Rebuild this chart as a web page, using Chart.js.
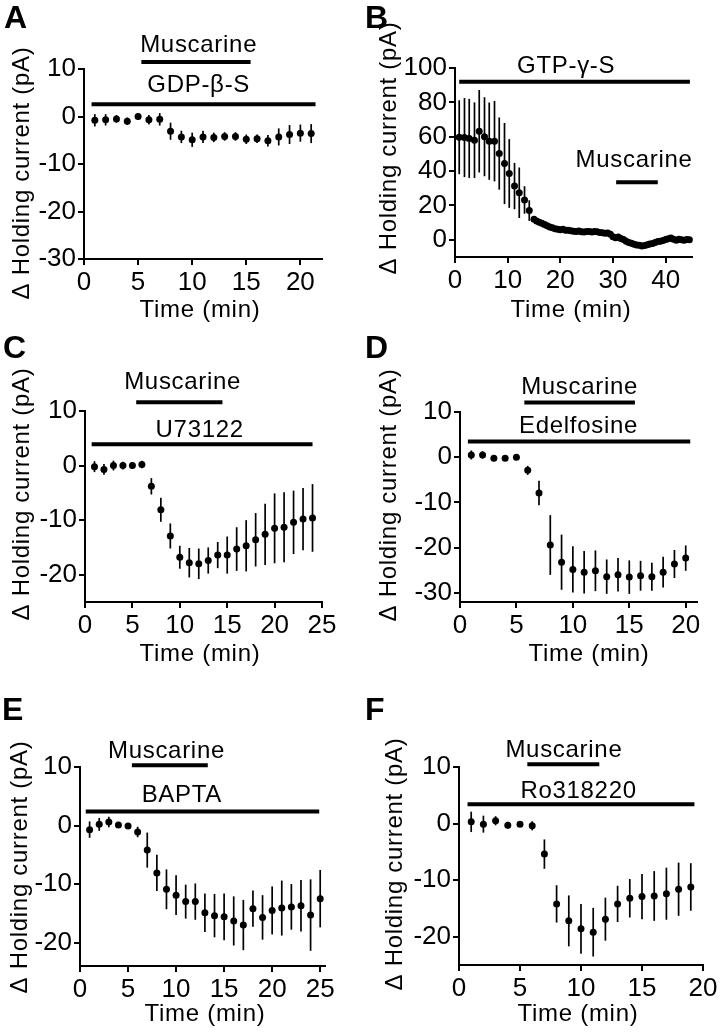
<!DOCTYPE html>
<html>
<head>
<meta charset="utf-8">
<script src="https://cdn.jsdelivr.net/npm/chart.js@4.4.1/dist/chart.umd.min.js"></script>
<style>
  html, body { margin: 0; padding: 0; background: #fff; }
  #fig { position: relative; width: 724px; height: 1034px; overflow: hidden; }
  #fig canvas { position: absolute; }
  .tag { position: absolute; font: bold 32px "Liberation Sans", Arial, sans-serif; line-height: 1; color: #000; }
</style>
</head>
<body>
<div id="fig">
  <canvas id="cA" width="362" height="340" style="left:0;top:0;width:362px;height:340px"></canvas>
  <canvas id="cB" width="362" height="340" style="left:362px;top:0;width:362px;height:340px"></canvas>
  <canvas id="cC" width="362" height="345" style="left:0;top:340px;width:362px;height:345px"></canvas>
  <canvas id="cD" width="362" height="345" style="left:362px;top:340px;width:362px;height:345px"></canvas>
  <canvas id="cE" width="362" height="349" style="left:0;top:685px;width:362px;height:349px"></canvas>
  <canvas id="cF" width="362" height="349" style="left:362px;top:685px;width:362px;height:349px"></canvas>
  <div class="tag" style="left:4px;top:1px">A</div>
  <div class="tag" style="left:365px;top:1px">B</div>
  <div class="tag" style="left:3px;top:331px">C</div>
  <div class="tag" style="left:365px;top:331px">D</div>
  <div class="tag" style="left:2px;top:693px">E</div>
  <div class="tag" style="left:365px;top:693px">F</div>
</div>
<script>
// ---- A : GDP-beta-S ----
const timeA = [1, 2, 3, 4, 5, 6, 7, 8, 9, 10, 11, 12, 13, 14, 15, 16, 17, 18, 19, 20, 21];
const meanA = [-0.8, -0.7, -0.5, -1.0, 0, -0.7, -0.6, -3.1, -4.3, -4.9, -4.3, -4.4, -4.2, -4.2, -4.8, -4.7, -5.1, -4.3, -3.8, -3.5, -3.6];
const semA = [1.3, 1.2, 0.8, 0.8, 0.7, 1.0, 1.3, 1.8, 1.3, 1.5, 1.3, 1.0, 0.9, 0.9, 1.0, 0.9, 1.2, 1.8, 2.0, 1.8, 2.0];
const barsA = [[5.3, 15.4, 11.5], [0.7, 21.4, 2.6]];   // [start, end, level]
const namesA = ['Muscarine', 'GDP-β-S'];
const xTicksA = [0, 5, 10, 15, 20];
const yTicksA = [-30, -20, -10, 0, 10];

// ---- B : GTP-gamma-S ----
const timeB = [0.8, 1.8, 2.7, 3.7, 4.6, 5.6, 6.5, 7.5, 8.4, 9.4, 10.3, 11.3, 12.2, 13.2, 14.1];
const meanB = [59.7, 59.5, 59.0, 58.0, 63.2, 60.0, 57.4, 57.4, 50.2, 44.4, 38.6, 31.3, 27.4, 23.2, 17.0];
const semB = [21.5, 23, 23, 22, 24, 23, 22.5, 23.4, 21, 23.6, 20, 13.5, 14.7, 8, 6];
const timeB2 = [15, 15.5, 16, 16.5, 17, 17.5, 18, 18.5, 19, 19.5,
  20, 20.5, 21, 21.5, 22, 22.5, 23, 23.5, 24, 24.5,
  25, 25.5, 26, 26.5, 27, 27.5, 28, 28.5, 29, 29.5,
  30, 30.5, 31, 31.5, 32, 32.5, 33, 33.5, 34, 34.5,
  35, 35.5, 36, 36.5, 37, 37.5, 38, 38.5, 39, 39.5,
  40, 40.5, 41, 41.5, 42, 42.5, 43, 43.5, 44, 44.5];
const meanB2 = [12.0, 11.0, 10.2, 9.6, 8.9, 8.2, 7.4, 7.0, 6.4, 6.2,
  5.9, 6.1, 5.6, 5.5, 5.3, 5.0, 4.8, 5.1, 4.7, 4.6,
  4.9, 4.8, 4.5, 4.9, 4.7, 4.3, 4.1, 3.8, 3.9, 3.2,
  1.8, 1.2, 1.6, 0.8, 0.2, -0.8, -1.5, -2.0, -2.6, -3.0,
  -3.2, -3.6, -3.3, -2.8, -2.4, -2.1, -1.6, -1.0, -0.8, -0.4,
  0.2, 0.6, 1.0, 0.4, -0.2, 0.3, 0.0, -0.3, 0.2, 0.0];
const barsB = [[30.6, 38.5, 33.5], [0.8, 44.6, 92]];
const namesB = ['Muscarine', 'GTP-γ-S'];
const xTicksB = [0, 10, 20, 30, 40];
const yTicksB = [0, 20, 40, 60, 80, 100];

// ---- C : U73122 ----
const timeC = [1, 2, 3, 4, 5, 6, 7, 8, 9, 10, 11, 12, 13, 14, 15, 16, 17, 18, 19, 20, 21, 22, 23, 24];
const meanC = [-0.2, -0.7, 0, 0, 0, 0.2, -3.8, -8.1, -12.9, -16.8, -17.8, -18, -17.4, -16.4, -16.4, -15.3, -14.7, -13.6, -12.6, -11.5, -11.3, -10.4, -9.8, -9.6];
const semC = [1, 1, 0.9, 0.7, 0.6, 0.7, 1.5, 2.2, 2.3, 2.1, 2.7, 2.8, 2.4, 2.4, 3.4, 4.0, 4.7, 4.9, 5.6, 6.4, 6.4, 5.8, 5.7, 6.2];
const barsC = [[5.4, 14.5, 11.6], [0.7, 24.0, 3.9]];
const namesC = ['Muscarine', 'U73122'];
const xTicksC = [0, 5, 10, 15, 20, 25];
const yTicksC = [-20, -10, 0, 10];

// ---- D : Edelfosine ----
const timeD = [1, 2, 3, 4, 5, 6, 7, 8, 9, 10, 11, 12, 13, 14, 15, 16, 17, 18, 19, 20];
const meanD = [0.5, 0.5, -0.2, -0.2, 0, -2.9, -7.9, -19.4, -23.2, -24.8, -25.4, -25.1, -26.4, -26, -26.5, -26.2, -26.4, -25.4, -23.6, -22.3];
const semD = [1, 0.8, 0.5, 0.5, 0.5, 1, 2.7, 6.6, 6.1, 5.1, 4.7, 4.5, 3.8, 3.7, 3.7, 3.3, 3.1, 3.4, 3.1, 2.8];
const barsD = [[5.7, 15.5, 12.1], [0.7, 20.4, 3.5]];
const namesD = ['Muscarine', 'Edelfosine'];
const xTicksD = [0, 5, 10, 15, 20];
const yTicksD = [-30, -20, -10, 0, 10];

// ---- E : BAPTA ----
const timeE = [1, 2, 3, 4, 5, 6, 7, 8, 9, 10, 11, 12, 13, 14, 15, 16, 17, 18, 19, 20, 21, 22, 23, 24, 25];
const meanE = [-0.7, 0.2, 0.6, 0.1, -0.1, -1.1, -4.2, -8.1, -10.9, -11.9, -13, -13, -14.9, -15.4, -15.6, -16.3, -17, -14.2, -15.7, -14.5, -14.1, -13.9, -13.7, -15.3, -12.5];
const semE = [1.4, 1.1, 0.9, 0.5, 0.5, 0.9, 3.0, 3.1, 3.4, 3.4, 2.9, 3.1, 3.3, 3.7, 4.0, 4.2, 4.3, 3.1, 3.8, 4.1, 4.7, 3.9, 4.4, 6.1, 4.9];
const barsE = [[5.4, 13.3, 10.3], [0.6, 24.9, 2.4]];
const namesE = ['Muscarine', 'BAPTA'];
const xTicksE = [0, 5, 10, 15, 20, 25];
const yTicksE = [-20, -10, 0, 10];

// ---- F : Ro318220 ----
const timeF = [1, 2, 3, 4, 5, 6, 7, 8, 9, 10, 11, 12, 13, 14, 15, 16, 17, 18, 19];
const meanF = [0.3, -0.1, 0.5, -0.3, -0.1, -0.4, -5.4, -14.2, -17.2, -18.6, -19.2, -16.9, -14.2, -13.2, -12.9, -12.8, -12.4, -11.6, -11.2];
const semF = [1.8, 1.5, 0.8, 0.6, 0.5, 0.8, 2.6, 3.3, 4.5, 4.4, 4.3, 3.8, 3.2, 3.4, 4.0, 4.4, 4.6, 4.7, 4.2];
const barsF = [[5.6, 11.5, 10.5], [0.7, 19.3, 3.4]];
const namesF = ['Muscarine', 'Ro318220'];
const xTicksF = [0, 5, 10, 15, 20];
const yTicksF = [-20, -10, 0, 10];

const FONT = '"Liberation Sans", Arial, Helvetica, sans-serif';
const Y_TITLE = 'Δ Holding current (pA)';
const X_TITLE = 'Time (min)';

// layout of each panel: area = [left, right, top, bottom] inside its canvas
const panels = [
  { id: 'cA', w: 362, h: 340, area: [84, 322, 69, 259], x: [0, 22], y: [-30, 10],
    xTicks: xTicksA, yTicks: yTicksA, bars: barsA, names: namesA,
    labelAt: [[10.6, -10], [10.6, -12]], xTitle: [200, 317], yTitle: [22, 173],
    series: [{ t: timeA, m: meanA, e: semA, r: 3.5 }] },
  { id: 'cB', w: 362, h: 340, area: [93, 330, 68, 257], x: [0, 45], y: [-10, 100],
    xTicks: xTicksB, yTicks: yTicksB, bars: barsB, names: namesB,
    labelAt: [[34, -15], [21.1, -9]], xTitle: [209, 317], yTitle: [27, 148],
    series: [{ t: timeB, m: meanB, e: semB, r: 3.5 }, { t: timeB2, m: meanB2, e: null, r: 3.5 }] },
  { id: 'cC', w: 362, h: 345, area: [85, 322, 71, 262], x: [0, 25], y: [-25, 10],
    xTicks: xTicksC, yTicks: yTicksC, bars: barsC, names: namesC,
    labelAt: [[10.3, -13], [12.1, -7]], xTitle: [200, 321], yTitle: [22, 154],
    series: [{ t: timeC, m: meanC, e: semC, r: 3.5 }] },
  { id: 'cD', w: 362, h: 345, area: [98, 335, 72, 262], x: [0, 21], y: [-32, 10],
    xTicks: xTicksD, yTicks: yTicksD, bars: barsD, names: namesD,
    labelAt: [[10.6, -9], [10.5, -8]], xTitle: [227, 321], yTitle: [27, 155],
    series: [{ t: timeD, m: meanD, e: semD, r: 3.5 }] },
  { id: 'cE', w: 362, h: 349, area: [80, 325, 82, 281], x: [0, 25.5], y: [-24, 10],
    xTicks: xTicksE, yTicks: yTicksE, bars: barsE, names: namesE,
    labelAt: [[9.0, -7], [10.6, -9]], xTitle: [205, 336], yTitle: [20, 182],
    series: [{ t: timeE, m: meanE, e: semE, r: 3.5 }] },
  { id: 'cF', w: 362, h: 349, area: [97, 341, 82, 280], x: [0, 20], y: [-25, 10],
    xTicks: xTicksF, yTicks: yTicksF, bars: barsF, names: namesF,
    labelAt: [[8.6, -7], [9.8, -6]], xTitle: [216, 336], yTitle: [33, 179],
    series: [{ t: timeF, m: meanF, e: semF, r: 3.5 }] }
];

function axisOpts(range, ticks, fit) {
  return {
    type: 'linear',
    min: range[0],
    max: range[1],
    afterBuildTicks: s => { s.ticks = ticks.map(v => ({ value: v })); },
    afterFit: fit,
    grid: { drawOnChartArea: false, drawTicks: true, tickLength: 6, tickWidth: 2, tickColor: '#000', color: '#000', lineWidth: 2 },
    border: { display: true, color: '#000', width: 2 },
    ticks: { color: '#000', font: { size: 26, family: FONT }, padding: 2, autoSkip: false, maxRotation: 0, callback: v => String(v) }
  };
}

panels.forEach(p => {
  const [L, R, T, B] = p.area;
  const datasets = [];

  // drug application bars
  p.bars.forEach(b => datasets.push({
    data: [{ x: b[0], y: b[2] }, { x: b[1], y: b[2] }],
    showLine: true, borderColor: '#000', borderWidth: 4, borderCapStyle: 'butt',
    pointRadius: 0, clip: false
  }));

  // mean +/- sem points
  p.series.forEach(s => datasets.push({
    data: s.t.map((t, i) => ({ x: t, y: s.m[i] })),
    errors: s.e,
    showLine: false, pointRadius: s.r, pointHoverRadius: s.r,
    pointBackgroundColor: '#000', pointBorderWidth: 0, clip: false
  }));

  const textPlugin = {
    id: 'panelText',
    beforeDatasetsDraw(chart) {
      const { ctx, scales: { x, y } } = chart;
      ctx.save();
      ctx.strokeStyle = '#000';
      ctx.lineWidth = 1.7;
      chart.data.datasets.forEach(ds => {
        if (!ds.errors) return;
        ds.data.forEach((pt, i) => {
          const px = x.getPixelForValue(pt.x);
          ctx.beginPath();
          ctx.moveTo(px, y.getPixelForValue(pt.y - ds.errors[i]));
          ctx.lineTo(px, y.getPixelForValue(pt.y + ds.errors[i]));
          ctx.stroke();
        });
      });
      ctx.restore();
    },
    afterDraw(chart) {
      const { ctx, scales: { x, y } } = chart;
      ctx.save();
      ctx.fillStyle = '#000';
      ctx.font = '24px ' + FONT;
      ctx.letterSpacing = '0.7px';
      ctx.textAlign = 'center';
      ctx.textBaseline = 'alphabetic';
      p.names.forEach((name, i) => {
        const [lx, dy] = p.labelAt[i];
        ctx.fillText(name, x.getPixelForValue(lx), y.getPixelForValue(p.bars[i][2]) + dy);
      });
      ctx.fillText(X_TITLE, p.xTitle[0], p.xTitle[1]);
      ctx.translate(p.yTitle[0], p.yTitle[1]);
      ctx.rotate(-Math.PI / 2);
      ctx.textBaseline = 'middle';
      ctx.fillText(Y_TITLE, 0, 0);
      ctx.restore();
    }
  };

  new Chart(document.getElementById(p.id), {
    type: 'scatter',
    data: { datasets },
    options: {
      responsive: false,
      animation: false,
      devicePixelRatio: 1,
      events: [],
      layout: { padding: { left: 0, top: T, right: p.w - R, bottom: 0 } },
      plugins: { legend: { display: false }, tooltip: { enabled: false } },
      scales: {
        x: axisOpts(p.x, p.xTicks, s => { s.height = p.h - B; }),
        y: axisOpts(p.y, p.yTicks, s => { s.width = L; })
      }
    },
    plugins: [textPlugin]
  });
});
</script>
</body>
</html>
